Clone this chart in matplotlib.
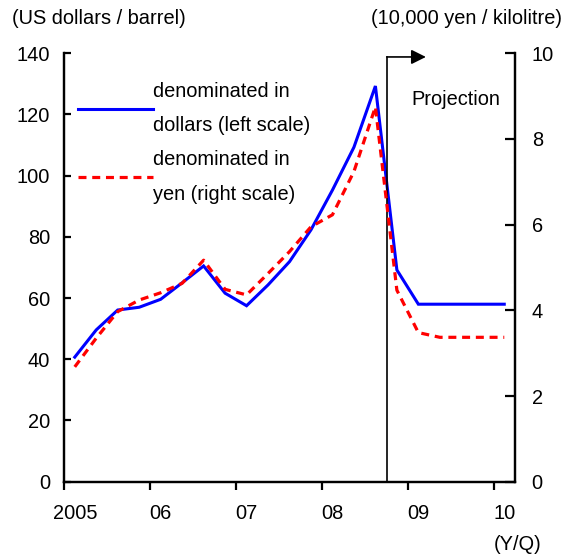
import matplotlib
matplotlib.use("Agg")
import matplotlib.pyplot as plt
import numpy as np

plt.rcParams['font.family'] = ['Liberation Sans', 'DejaVu Sans']
plt.rcParams['font.size'] = 14.4

# quarterly data, 2005Q1 .. 2010Q1
year_labels = ["2005", "06", "07", "08", "09", "10"]
usd = [40.7, 49.6, 56.1, 57.0, 59.6, 65.0, 70.5, 61.6, 57.5, 64.3, 71.9,
       82.3, 95.3, 109.3, 129.3, 69.2, 58.0, 58.0, 58.0, 58.0, 58.0]
yen = [2.68, 3.35, 3.97, 4.24, 4.41, 4.63, 5.17, 4.49, 4.36, 4.86, 5.37,
       5.95, 6.23, 7.24, 8.75, 4.47, 3.48, 3.37, 3.37, 3.37, 3.37]
usd_ticks = [0, 20, 40, 60, 80, 100, 120, 140]
yen_ticks = [0, 2, 4, 6, 8, 10]
proj_start = 15.06  # quarters from 2005Q1

x = np.arange(len(usd)) + 0.5

fig = plt.figure(figsize=(5.65, 5.55), dpi=100)
ax = fig.add_axes([0.1133, 0.1321, 0.7982, 0.7719])
ax2 = ax.twinx()

l1, = ax.plot(x, usd, color="#0000ff", lw=2.2, solid_joinstyle="miter",
              label="denominated in\ndollars (left scale)")
l2, = ax2.plot(x, yen, color="#ff0000", lw=2.3, linestyle=(0, (2.5, 1.8)),
               label="denominated in\nyen (right scale)")

ax.set_xlim(0, 21)
ax.set_ylim(0, 140)
ax2.set_ylim(0, 10)
ax.set_yticks(usd_ticks)
ax2.set_yticks(yen_ticks)

ax.set_xticks(np.arange(0, 21, 4))
ax.set_xticklabels([])
ax.set_xticks(np.arange(0, 21, 4) + 0.5, minor=True)
ax.set_xticklabels(year_labels, minor=True)

for a in (ax, ax2):
    a.spines["top"].set_visible(False)
    for s in ("left", "right", "bottom"):
        a.spines[s].set_linewidth(1.6)
ax.tick_params(axis="y", direction="in", length=5, width=1.6, pad=10)
ax2.tick_params(axis="y", direction="in", length=7, width=1.6, pad=12)
ax.tick_params(axis="x", which="major", direction="out", length=6, width=1.6)
ax.tick_params(axis="x", which="minor", length=0, pad=16)

# projection marker
ax.plot([proj_start, proj_start], [0, 138.8], color="black", lw=1.2)
ax.annotate("", xy=(16.85, 138.8), xytext=(proj_start - 0.03, 138.8),
            arrowprops=dict(arrowstyle="-|>", color="black", lw=1.2,
                            mutation_scale=22, shrinkA=0, shrinkB=0))
ax.text(16.17, 125.0, "Projection", ha="left", va="center")

leg = ax2.legend(handles=[l1, l2], loc="upper left",
                 bbox_to_anchor=(0.03, 0.934), frameon=False,
                 borderpad=0, borderaxespad=0, handlelength=3.75,
                 handletextpad=0.0, labelspacing=0.72)
for t in leg.get_texts():
    t.set_linespacing(2.06)

fig.text(12 / 565, 1 - 18 / 555, "(US dollars / barrel)", ha="left", va="center")
fig.text(562 / 565, 1 - 18 / 555, "(10,000 yen / kilolitre)", ha="right", va="center")
fig.text(518 / 565, 1 - 544 / 555, "(Y/Q)", ha="center", va="center")

fig.savefig("out.png", dpi=100)
